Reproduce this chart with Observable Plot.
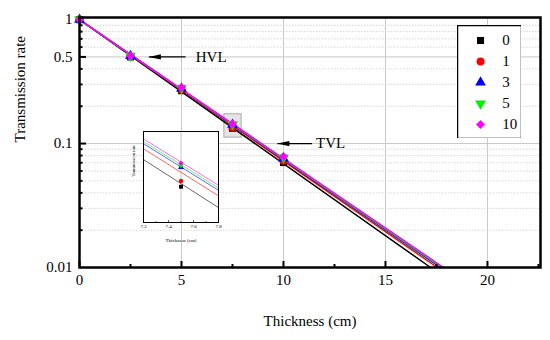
<!DOCTYPE html>
<html><head><meta charset="utf-8">
<script src="https://cdn.jsdelivr.net/npm/d3@7"></script>
<script src="https://cdn.jsdelivr.net/npm/@observablehq/plot@0.6"></script>
<style>
body{margin:0;background:#fff;}
#wrap{position:relative;width:550px;height:340px;overflow:hidden;font-family:"Liberation Serif","DejaVu Serif",serif;}
#wrap svg{position:absolute;}
#wrap svg text{font-family:"Liberation Serif","DejaVu Serif",serif !important;}
</style></head><body><div id="wrap"></div>
<script>
// ---- data ----
const series = ["0", "1", "3", "5", "10"];
const colors = ["#000000", "#ff0000", "#0000ff", "#00ee00", "#ff00ff"];
const symbolNames = ["square", "circle", "triangle", "triangleDown", "diamond2"];
const thickness = [0, 2.5, 5, 7.5, 10];
const rate0  = [1, 0.500, 0.267, 0.133, 0.0703];
const rate1  = [1, 0.505, 0.272, 0.1356, 0.0725];
const rate3  = [1, 0.510, 0.278, 0.142, 0.0760];
const rate5  = [1, 0.510, 0.280, 0.143, 0.0770];
const rate10 = [1, 0.512, 0.283, 0.144, 0.0786];
const rates = [rate0, rate1, rate3, rate5, rate10];
// fitted lines: start at (0, 1), reach 0.01 at fitEnd thickness
const fitStart = {x: 0, y: 1};
const fitEndX = [17.21, 17.54, 17.70, 17.77, 17.85];
const fitEndY = 0.01;

const xTicks = [0, 5, 10, 15, 20];
const xMinor = [2.5, 7.5, 12.5, 17.5, 22.5];
const xGrid = [5, 10, 15, 20];
const yTicks = [0.01, 0.1, 0.5, 1];
const yGrid = [0.1, 0.5];
const yMinor = [0.02, 0.03, 0.04, 0.05, 0.06, 0.07, 0.08, 0.09, 0.2, 0.3, 0.4, 0.6, 0.7, 0.8, 0.9];

const annotations = [
  {label: "HVL", y: 0.5, tip: 3.4, tail: 5.2, textX: 5.7},
  {label: "TVL", y: 0.1, tip: 9.7, tail: 11.4, textX: 11.6}
];

// inset (zoom) region
const insetX = [7.2, 7.8];
const insetY = [0.118, 0.160];
const insetTicks = [7.2, 7.4, 7.6, 7.8];
const insetMinor = [7.3, 7.5, 7.7];
const insetGrid = [7.5];

// ---- build tables ----
const points = [];
series.forEach((s, i) => thickness.forEach((t, j) => points.push({series: s, x: t, y: rates[i][j]})));
const lines = [];
series.forEach((s, i) => {
  lines.push({series: s, x: fitStart.x, y: fitStart.y});
  lines.push({series: s, x: fitEndX[i], y: fitEndY});
});

const triangleDown = {
  draw(context, size) {
    const y = -Math.sqrt(size / (Math.sqrt(3) * 3));
    context.moveTo(0, -y * 2);
    context.lineTo(-Math.sqrt(3) * y, y);
    context.lineTo(Math.sqrt(3) * y, y);
    context.closePath();
  }
};
const arrowHead = {
  draw(context) {
    context.moveTo(0, 0);
    context.lineTo(12, -2.6);
    context.lineTo(12, 2.6);
    context.closePath();
  }
};
const symbolOf = (i) => symbolNames[i] === "triangleDown" ? triangleDown : symbolNames[i];
const colorScale = {domain: series, range: colors};
const font = '"Liberation Serif","DejaVu Serif",serif';

const dotMarks = (r, filterFn) => series.map((s, i) =>
  Plot.dot(points.filter(d => d.series === s && filterFn(d)), {x: "x", y: "y", fill: colors[i], symbol: symbolOf(i), r}));

const wrap = document.getElementById("wrap");

// ---- main chart ----
const W = 550, H = 340, ML = 79, MR = 10, MT = 17, MB = 73;
const plotW = W - ML - MR, plotH = H - MT - MB;
const main = Plot.plot({
  width: W, height: H,
  marginLeft: ML, marginRight: MR, marginTop: MT, marginBottom: MB,
  style: {fontFamily: font, fontSize: "15px", background: "transparent", color: "black"},
  x: {domain: [0, 22.6]},
  y: {type: "log", domain: [0.01, 1.04]},
  color: colorScale,
  marks: [
    Plot.ruleY(yMinor, {stroke: "#d6d6d6", strokeDasharray: "1.5,1.5"}),
    Plot.ruleX(xGrid, {stroke: "#c8c8c8"}),
    Plot.ruleY(yGrid, {stroke: "#c8c8c8"}),
    Plot.rect([{}], {x1: insetX[0], x2: insetX[1], y1: insetY[0], y2: insetY[1],
      fill: "#e4e4e4", stroke: "#aaa", insetLeft: -2, insetRight: -3, insetTop: -4, insetBottom: -3}),
    Plot.line(lines, {x: "x", y: "y", z: "series", stroke: "series", strokeWidth: 1.5}),
    ...dotMarks(4, () => true),
    Plot.link(annotations, {x1: "tail", x2: "tip", y1: "y", y2: "y", stroke: "black", strokeWidth: 1.3}),
    Plot.dot(annotations, {x: "tip", y: "y", symbol: arrowHead, fill: "black"}),
    Plot.text(annotations, {x: "textX", y: "y", text: "label", textAnchor: "start", fontSize: 15, fontFamily: font}),
    Plot.axisX({ticks: xTicks, tickSize: 0, tickPadding: 7, label: null, fontFamily: font, fontSize: 15}),
    Plot.axisY({ticks: yTicks, tickSize: 0, tickPadding: 7, tickFormat: d => String(d), label: null, fontFamily: font, fontSize: 15}),
    Plot.tickX(xTicks, {x: d => d, insetTop: plotH - 6, strokeWidth: 2}),
    Plot.tickX(xMinor, {x: d => d, insetTop: plotH - 3, strokeWidth: 2}),
    Plot.tickY(yGrid, {y: d => d, insetRight: plotW - 7, strokeWidth: 2}),
    Plot.tickY(yMinor, {y: d => d, insetRight: plotW - 3.5, strokeWidth: 2}),
    Plot.frame({stroke: "black", strokeWidth: 2.5}),
    Plot.text(["Thickness (cm)"], {frameAnchor: "bottom", dy: 58, fontSize: 15, fontFamily: font}),
    Plot.text(["Transmission rate"], {frameAnchor: "left", dx: -59, rotate: -90, fontSize: 15, fontFamily: font})
  ]
});
main.style.left = "0px"; main.style.top = "0px";
wrap.appendChild(main);

// ---- inset ----
const IW = 97, IH = 123, IML = 14, IMR = 8, IMT = 2, IMB = 30;
const inset = Plot.plot({
  width: IW, height: IH,
  marginLeft: IML, marginRight: IMR, marginTop: IMT, marginBottom: IMB,
  style: {fontFamily: font, fontSize: "5px", background: "transparent", color: "black"},
  x: {domain: insetX},
  y: {type: "log", domain: insetY},
  color: colorScale,
  marks: [
    Plot.frame({fill: "white", stroke: "none"}),
    Plot.ruleX(insetGrid, {stroke: "#bbb", strokeWidth: 0.8}),
    Plot.line(lines, {x: "x", y: "y", z: "series", stroke: "series", strokeWidth: 0.8, strokeOpacity: 0.75, clip: true}),
    ...dotMarks(2.2, d => d.x >= insetX[0] && d.x <= insetX[1]),
    Plot.axisX({ticks: insetTicks, tickSize: 0, tickPadding: 2, tickFormat: d => d.toFixed(1), label: null, fontFamily: font, fontSize: 5}),
    Plot.axisY({ticks: [], label: null}),
    Plot.tickX(insetTicks, {x: d => d, insetTop: IH - IMT - IMB - 2, strokeWidth: 0.6}),
    Plot.tickX(insetMinor, {x: d => d, insetTop: IH - IMT - IMB - 1, strokeWidth: 0.6}),
    Plot.frame({stroke: "black", strokeWidth: 1}),
    Plot.text(["Thickness (cm)"], {frameAnchor: "bottom", dy: 19, fontSize: 5, fontFamily: font}),
    Plot.text(["Transmission rate"], {frameAnchor: "left", dx: -10, rotate: -90, fontSize: 4.5, fontFamily: font})
  ]
});
inset.style.left = "129px"; inset.style.top = "129px";
wrap.appendChild(inset);

// ---- legend ----
const legendRows = series.map((s, i) => ({series: s, idx: i}));
const legend = Plot.plot({
  width: 64, height: 113, margin: 0,
  style: {fontFamily: font, fontSize: "15px", background: "transparent", color: "black"},
  x: {domain: [0, 1], axis: null},
  y: {type: "point", domain: series, padding: 0.6, axis: null},
  marks: [
    Plot.frame({fill: "white", stroke: "black", strokeWidth: 1.5}),
    ...legendRows.map(d => Plot.dot([d], {x: () => 0.36, y: "series", fill: colors[d.idx], symbol: symbolOf(d.idx), r: 4})),
    Plot.text(legendRows, {x: () => 0.70, y: "series", text: "series", textAnchor: "start", fontSize: 15, fontFamily: font, fontWeight: "normal"})
  ]
});
legend.style.left = "457px"; legend.style.top = "25px";
wrap.appendChild(legend);
</script>
</body></html>
